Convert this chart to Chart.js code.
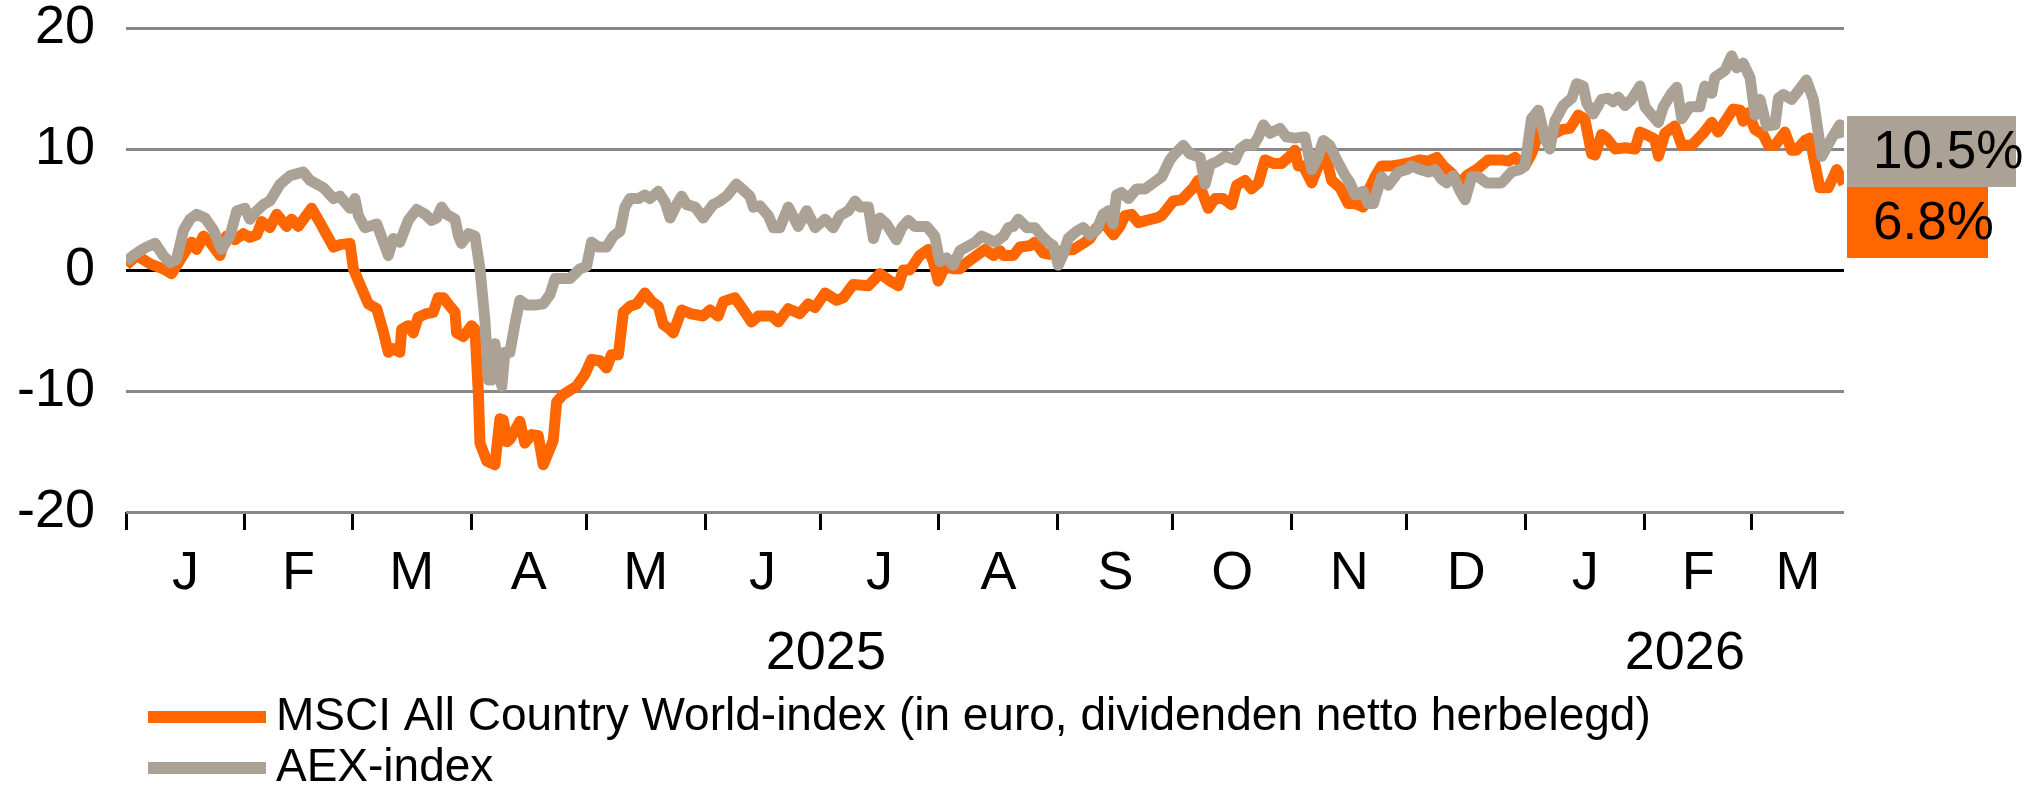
<!DOCTYPE html>
<html>
<head>
<meta charset="utf-8">
<title>MSCI ACWI vs AEX</title>
<script src="https://cdn.jsdelivr.net/npm/chart.js@4.4.1/dist/chart.umd.min.js"></script>
<style>
  html, body { margin: 0; padding: 0; background: #fff; }
  #wrap { width: 2040px; height: 790px; }
</style>
</head>
<body>
<div id="wrap"><canvas id="indexChart" width="2040" height="790"></canvas></div>
<script>
// Rendement in % sinds 1 januari 2025.
const lastDay = 448;

const msciDays = [
  0, 2.8, 6.3, 9.7, 11.9, 15.0, 17.1, 18.4, 20.2, 21.9, 24.5, 26.2, 28.4, 30.6, 32.3, 34.1, 35.4, 37.5, 39.3, 41.9,
  43.2, 44.9, 48.4, 50.6, 54.1, 55.8, 58.4, 59.3, 60.6, 63.2, 65.4, 67.1, 68.4, 69.7, 71.4, 71.9, 73.6, 74.9, 76.2, 78.4,
  80.1, 81.4, 82.8, 84.5, 85.8, 86.2, 88.0, 90.1, 91.0, 91.9, 92.3, 94.1, 96.2, 97.5, 98.4, 99.3, 100.1, 101.0, 102.7, 104.0,
  105.8, 107.5, 108.8, 111.4, 112.3, 114.0, 117.5, 119.7, 121.4, 123.6, 125.3, 126.6, 128.4, 129.7, 131.4, 133.2, 135.3, 137.1, 138.8, 140.1,
  141.4, 142.7, 144.9, 147.1, 150.5, 152.3, 154.4, 155.8, 158.8, 161.0, 163.1, 164.9, 168.4, 170.1, 172.7, 175.7, 177.9, 179.7, 182.3, 185.3,
  187.0, 189.6, 193.6, 196.6, 199.2, 201.4, 202.7, 204.4, 207.0, 209.2, 210.5, 211.8, 213.6, 215.7, 217.5, 219.2, 221.8, 224.0, 226.2, 227.9,
  228.8, 231.4, 233.1, 235.7, 237.0, 239.2, 240.9, 244.0, 247.0, 249.6, 251.4, 253.1, 255.3, 257.5, 259.2, 260.5, 262.2, 264.0, 266.1, 268.8,
  270.1, 273.1, 275.3, 278.3, 279.6, 280.9, 282.2, 284.0, 286.1, 288.3, 289.6, 291.8, 293.5, 295.3, 297.0, 299.2, 301.3, 303.5, 304.8, 305.7,
  307.0, 309.2, 310.9, 312.7, 314.4, 316.6, 318.7, 320.5, 322.6, 323.9, 325.7, 327.4, 330.0, 332.2, 335.2, 337.4, 339.6, 341.8, 343.5, 345.7,
  347.9, 349.6, 352.6, 355.2, 358.7, 360.5, 362.2, 364.8, 366.5, 368.7, 370.9, 372.6, 374.4, 376.5, 378.7, 380.4, 382.2, 383.1, 384.8, 386.1,
  388.3, 390.9, 393.5, 394.8, 397.0, 398.7, 399.6, 401.3, 403.9, 405.7, 408.3, 411.3, 413.5, 415.2, 419.1, 420.9, 421.7, 423.0, 424.8, 426.9,
  428.3, 430.0, 432.6, 434.3, 435.6, 437.8, 439.1, 440.4, 441.7, 443.9, 446.1, 448
];
const msciValues = [
  0.4, 1.2, 0.5, 0.1, -0.3, 1.3, 2.3, 1.7, 2.8, 2.3, 1.2, 2.8, 2.5, 3.0, 2.7, 2.9, 4.0, 3.5, 4.6, 3.6,
  4.2, 3.6, 5.1, 3.9, 1.9, 2.1, 2.2, 0.1, -0.9, -2.8, -3.2, -5.1, -6.8, -6.5, -6.8, -4.9, -4.6, -5.2, -3.9, -3.6,
  -3.5, -2.3, -2.3, -3.0, -3.5, -5.2, -5.5, -4.6, -4.9, -10.3, -14.3, -15.8, -16.1, -12.3, -12.4, -14.2, -14.0, -13.5, -12.5, -14.3,
  -13.6, -13.7, -16.1, -14.1, -10.9, -10.3, -9.6, -8.6, -7.4, -7.5, -8.1, -7.0, -7.0, -3.5, -3.0, -2.8, -1.9, -2.6, -3.0, -4.5,
  -4.8, -5.2, -3.3, -3.6, -3.8, -3.3, -3.8, -2.6, -2.3, -3.3, -4.3, -3.8, -3.8, -4.3, -3.2, -3.6, -2.8, -3.1, -1.9, -2.5,
  -2.3, -1.2, -1.3, -0.3, -0.9, -1.3, 0.0, 0.0, 1.2, 1.7, 0.7, -0.9, 0.3, 0.1, 0.1, 0.6, 1.2, 1.7, 1.2, 1.6,
  1.2, 1.2, 1.9, 2.0, 2.3, 1.4, 1.3, 1.6, 1.7, 2.2, 2.6, 3.5, 3.8, 2.9, 3.6, 4.5, 4.6, 3.9, 4.1, 4.3,
  4.5, 5.7, 5.8, 6.8, 7.4, 6.2, 5.1, 5.9, 5.9, 5.4, 7.0, 7.4, 6.7, 7.2, 9.1, 8.8, 8.8, 9.4, 9.9, 8.6,
  8.6, 7.2, 8.6, 9.6, 7.4, 6.8, 5.5, 5.5, 5.2, 6.5, 7.7, 8.6, 8.6, 8.7, 8.9, 9.1, 9.0, 9.3, 8.6, 8.0,
  7.1, 7.8, 8.4, 9.1, 9.1, 9.0, 9.3, 8.6, 9.6, 11.6, 11.2, 11.3, 11.6, 11.7, 12.8, 12.5, 9.6, 9.5, 11.2, 10.9,
  10.0, 10.1, 10.0, 11.4, 11.1, 10.8, 9.4, 11.3, 11.9, 10.3, 10.3, 11.3, 12.2, 11.4, 13.3, 13.2, 12.3, 13.0, 11.6, 11.2,
  10.3, 10.3, 11.4, 9.9, 9.9, 10.7, 10.9, 8.8, 6.8, 6.8, 8.3, 7.1
];

const aexDays = [
  0, 1.9, 3.7, 5.4, 7.6, 9.7, 11.5, 13.2, 15.0, 16.7, 18.4, 20.6, 22.8, 24.9, 27.1, 28.9, 31.0, 32.3, 34.1, 35.8,
  37.5, 40.2, 42.8, 46.2, 48.0, 51.5, 54.1, 55.8, 58.4, 59.7, 60.6, 62.3, 65.4, 68.4, 69.7, 71.4, 73.6, 75.8, 78.0, 79.7,
  81.0, 82.3, 83.6, 85.8, 86.7, 87.5, 89.3, 91.0, 92.3, 93.6, 94.5, 95.4, 96.2, 97.1, 98.0, 98.8, 100.1, 101.4, 102.7, 104.5,
  106.7, 108.8, 110.6, 111.9, 113.2, 115.8, 118.4, 120.1, 121.4, 123.2, 125.3, 127.1, 128.8, 130.1, 131.4, 133.6, 135.3, 136.6, 138.8, 140.6,
  141.9, 143.6, 144.9, 146.2, 148.4, 150.5, 153.1, 154.9, 156.6, 159.2, 161.0, 162.7, 163.6, 165.3, 167.5, 168.8, 170.5, 172.7, 175.3, 177.5,
  179.7, 182.3, 184.4, 186.2, 188.4, 190.1, 191.4, 193.6, 194.9, 196.6, 198.3, 200.9, 202.3, 204.0, 205.7, 208.8, 210.9, 212.2, 214.0, 215.7,
  217.5, 219.2, 221.4, 223.1, 226.6, 228.8, 230.1, 231.4, 232.7, 234.9, 237.0, 238.8, 240.5, 241.8, 243.1, 244.4, 245.7, 247.9, 249.6, 251.4,
  253.1, 254.8, 256.2, 257.4, 258.3, 259.6, 261.4, 263.5, 265.7, 267.9, 270.1, 272.2, 273.5, 275.7, 277.4, 280.1, 281.4, 282.7, 284.8, 286.6,
  289.2, 290.5, 292.2, 294.0, 295.3, 296.6, 298.3, 300.9, 302.6, 304.8, 307.4, 309.2, 310.9, 312.2, 313.9, 315.7, 317.9, 319.2, 320.5, 322.6,
  323.9, 325.3, 327.4, 329.2, 331.8, 334.0, 335.2, 337.4, 339.6, 341.3, 343.1, 344.4, 346.1, 347.9, 349.2, 350.9, 352.6, 354.8, 358.7, 361.3,
  363.5, 364.8, 366.5, 368.3, 370.0, 371.3, 372.6, 374.8, 377.0, 378.3, 380.0, 380.9, 382.6, 384.8, 386.5, 387.8, 389.1, 390.9, 392.6, 394.8,
  396.1, 398.7, 399.6, 400.9, 403.0, 404.4, 405.7, 407.8, 410.4, 411.7, 413.5, 414.3, 417.0, 418.7, 420.0, 421.7, 423.5, 424.8, 426.1, 427.8,
  430.0, 430.9, 432.2, 434.3, 435.6, 438.2, 440.0, 442.2, 444.8, 446.9, 448
];
const aexValues = [
  0.7, 1.2, 1.6, 1.9, 2.2, 1.2, 0.6, 0.9, 3.3, 4.2, 4.6, 4.3, 3.3, 1.7, 2.8, 4.9, 5.1, 4.2, 4.9, 5.4,
  5.7, 7.1, 7.8, 8.1, 7.4, 6.8, 5.9, 6.1, 5.1, 5.9, 4.5, 3.5, 3.8, 1.2, 2.6, 2.3, 4.1, 5.0, 4.6, 4.1,
  4.3, 5.2, 4.6, 4.2, 2.8, 2.2, 3.0, 2.8, 0.1, -4.2, -9.1, -9.1, -6.1, -8.0, -9.6, -6.8, -6.8, -4.5, -2.5, -2.9,
  -2.9, -2.8, -2.0, -0.7, -0.7, -0.7, 0.1, 0.3, 2.3, 1.9, 1.9, 2.8, 3.2, 5.2, 5.9, 5.9, 6.2, 5.9, 6.5, 5.6,
  4.3, 5.4, 6.1, 5.4, 5.2, 4.3, 5.4, 5.7, 6.1, 7.1, 6.6, 6.1, 5.2, 5.3, 4.5, 3.5, 3.5, 5.2, 3.6, 4.9,
  3.5, 4.2, 3.5, 4.5, 4.9, 5.7, 5.2, 5.2, 2.6, 4.3, 3.8, 2.5, 3.5, 4.1, 3.6, 3.6, 2.8, 0.7, 1.0, 0.4,
  1.6, 1.9, 2.3, 2.8, 2.3, 2.8, 3.5, 3.6, 4.2, 3.5, 3.5, 2.8, 2.3, 2.0, 0.4, 1.3, 2.6, 3.2, 3.5, 2.9,
  3.3, 4.6, 4.9, 3.8, 6.2, 6.4, 5.9, 6.7, 6.7, 7.2, 7.7, 9.1, 9.6, 10.3, 9.6, 9.3, 7.1, 8.7, 9.0, 9.4,
  9.1, 10.0, 10.4, 10.3, 11.0, 12.0, 11.3, 11.7, 11.0, 10.9, 11.0, 8.3, 9.4, 10.7, 10.3, 9.1, 7.8, 7.2, 6.2, 6.5,
  5.5, 5.5, 7.7, 7.0, 8.1, 8.3, 8.6, 8.3, 8.1, 8.3, 7.5, 7.2, 7.8, 6.5, 5.8, 7.7, 7.7, 7.2, 7.2, 8.1,
  8.3, 8.6, 12.5, 13.2, 10.9, 10.0, 12.3, 13.6, 14.2, 15.4, 15.2, 13.8, 12.9, 14.1, 14.2, 13.9, 14.3, 13.6, 14.1, 15.2,
  13.5, 12.5, 12.2, 13.5, 14.6, 15.1, 12.5, 13.5, 13.5, 15.2, 14.6, 15.9, 16.5, 17.7, 16.7, 17.1, 15.9, 12.8, 14.1, 11.9,
  12.0, 14.2, 14.5, 14.1, 14.6, 15.7, 14.1, 9.4, 10.9, 12.0, 11.0
];

// eerste dag van elke maand, geteld vanaf 1 jan 2025
const monthStarts = [0, 31, 59, 90, 120, 151, 181, 212, 243, 273, 304, 334, 365, 396, 424];
const monthLabels = ['J', 'F', 'M', 'A', 'M', 'J', 'J', 'A', 'S', 'O', 'N', 'D', 'J', 'F', 'M'];
const yearStarts = [0, 365];
const yearLabels = ['2025', '2026'];
const yTicks = [-20, -10, 0, 10, 20];

const seriesNames = ['MSCI All Country World-index (in euro, dividenden netto herbelegd)', 'AEX-index'];
const seriesColors = ['#ff6600', '#aba295'];
const endValues = [6.8, 10.5];

const ORANGE = seriesColors[0];
const GREY = seriesColors[1];

Chart.defaults.font.family = "'Liberation Sans', Arial, sans-serif";
Chart.defaults.color = '#000';

function toPoints(days, values) {
  return values.map((v, i) => ({ x: days[i], y: v }));
}

function mids(starts, end) {
  return starts.map((s, i) => (s + (i + 1 < starts.length ? starts[i + 1] : end)) / 2);
}

const monthMids = mids(monthStarts, lastDay);
const yearMids = mids(yearStarts, lastDay);

// legenda onder de assen, één regel per reeks
const legendRows = {
  id: 'legendRows',
  afterDraw(chart) {
    const ctx = chart.ctx;
    const rowY = [717, 768];
    ctx.save();
    ctx.font = "46px 'Liberation Sans', Arial, sans-serif";
    ctx.textBaseline = 'middle';
    ctx.textAlign = 'left';
    chart.data.datasets.forEach((ds, i) => {
      ctx.fillStyle = ds.borderColor;
      ctx.fillRect(148, rowY[i] - 6, 118, 12);
      ctx.fillStyle = '#000';
      ctx.fillText(ds.label, 276, rowY[i]);
    });
    ctx.restore();
  }
};

// vakjes met de laatste stand rechts van de grafiek
const endBoxes = {
  id: 'endBoxes',
  afterDraw(chart) {
    const ctx = chart.ctx;
    const y = chart.scales.y;
    const x0 = chart.chartArea.right + 3;
    const h = 71;
    const top = y.getPixelForValue(endValues[1]) - 27;
    const boxes = [
      { color: GREY, top: top, w: 169, text: endValues[1].toFixed(1) + '%' },
      { color: ORANGE, top: top + h, w: 141, text: endValues[0].toFixed(1) + '%' }
    ];
    ctx.save();
    ctx.font = "53px 'Liberation Sans', Arial, sans-serif";
    ctx.textBaseline = 'middle';
    ctx.textAlign = 'left';
    boxes.forEach(b => {
      ctx.fillStyle = b.color;
      ctx.fillRect(x0, b.top, b.w, h);
    });
    boxes.forEach(b => {
      ctx.fillStyle = '#000';
      ctx.fillText(b.text, x0 + 26, b.top + h / 2 + 2);
    });
    ctx.restore();
  }
};

const ctx = document.getElementById('indexChart').getContext('2d');

const indexChart = new Chart(ctx, {
  type: 'line',
  data: {
    datasets: [
      {
        label: seriesNames[0],
        data: toPoints(msciDays, msciValues),
        borderColor: ORANGE,
        borderWidth: 11,
        pointRadius: 0,
        tension: 0,
        borderJoinStyle: 'round',
        order: 1
      },
      {
        label: seriesNames[1],
        data: toPoints(aexDays, aexValues),
        borderColor: GREY,
        borderWidth: 11,
        pointRadius: 0,
        tension: 0,
        borderJoinStyle: 'round',
        order: 0
      }
    ]
  },
  options: {
    responsive: false,
    animation: false,
    events: [],
    layout: { padding: { top: 28, right: 196, bottom: 110, left: 0 } },
    plugins: {
      legend: { display: false },
      tooltip: { enabled: false }
    },
    scales: {
      x: {
        type: 'linear',
        position: 'bottom',
        weight: 0,
        min: 0,
        max: lastDay,
        afterBuildTicks: s => { s.ticks = monthStarts.map(v => ({ value: v })); },
        afterFit: s => { s.height = 18; s.paddingLeft = 0; s.paddingRight = 0; },
        ticks: { autoSkip: false, maxRotation: 0, padding: 0, callback: () => '' },
        grid: { drawOnChartArea: false, drawTicks: true, tickLength: 18, tickColor: '#000', tickWidth: 3 },
        border: { display: false }
      },
      months: {
        type: 'linear',
        position: 'bottom',
        weight: 1,
        min: 0,
        max: lastDay,
        afterBuildTicks: s => { s.ticks = monthMids.map(v => ({ value: v })); },
        afterFit: s => { s.height = 80; s.paddingLeft = 0; s.paddingRight = 0; },
        ticks: {
          autoSkip: false, maxRotation: 0, padding: 4,
          font: { size: 54 },
          callback: (v, i) => monthLabels[i]
        },
        grid: { display: false },
        border: { display: false }
      },
      years: {
        type: 'linear',
        position: 'bottom',
        weight: 2,
        min: 0,
        max: lastDay,
        afterBuildTicks: s => { s.ticks = yearMids.map(v => ({ value: v })); },
        afterFit: s => { s.height = 70; s.paddingLeft = 0; s.paddingRight = 0; },
        ticks: {
          autoSkip: false, maxRotation: 0, padding: 4,
          font: { size: 54 },
          callback: (v, i) => yearLabels[i]
        },
        grid: { display: false },
        border: { display: false }
      },
      y: {
        min: -20,
        max: 20,
        afterBuildTicks: s => { s.ticks = yTicks.map(v => ({ value: v })); },
        afterFit: s => { s.width = 126; s.paddingTop = 0; s.paddingBottom = 0; },
        ticks: { padding: 31, font: { size: 54 } },
        grid: {
          color: c => (c.tick && c.tick.value === 0 ? '#000' : '#888'),
          lineWidth: 3,
          drawTicks: false
        },
        border: { display: false }
      }
    }
  },
  plugins: [legendRows, endBoxes]
});
</script>
</body>
</html>
